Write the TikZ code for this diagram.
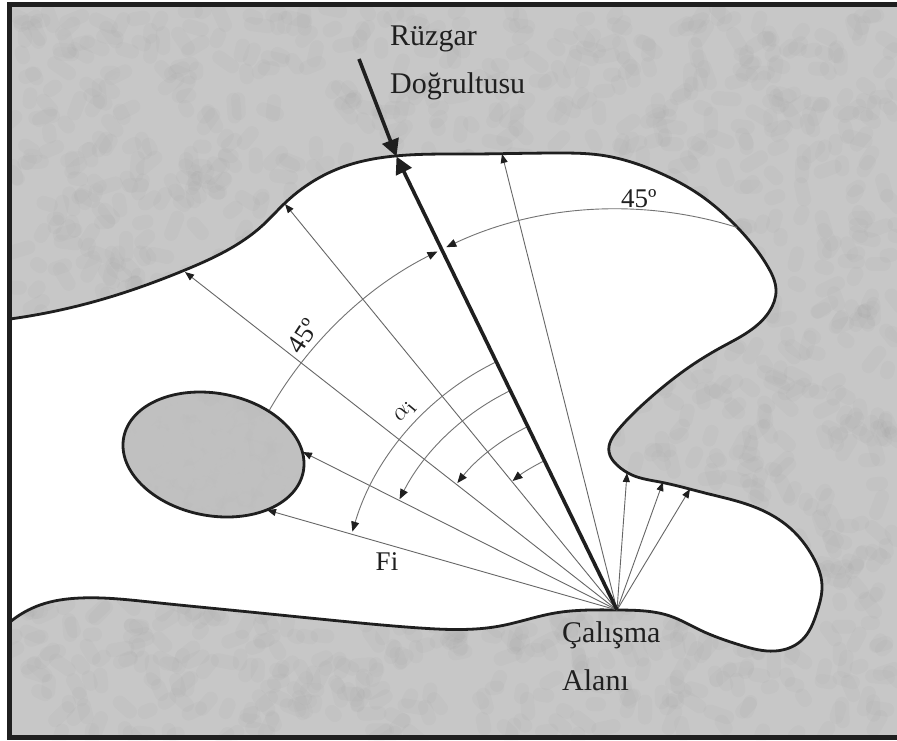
\documentclass[tikz,border=0pt]{standalone}
\usepackage{fontspec}
\setmainfont{Liberation Serif}
\usetikzlibrary{arrows.meta,hobby}

\definecolor{paper}{gray}{0.78}
\definecolor{ink}{gray}{0.12}

\tikzset{
  outline/.style={line width=2.8pt, ink, line join=round},
  thinray/.style={line width=0.9pt, black!60, -{Triangle[length=9pt,width=7pt,color=ink]}},
  arcline/.style={line width=0.9pt, black!55},
  arcarrow/.style={arcline, -{Triangle[length=10pt,width=8pt,color=ink]}},
  bigarrow/.style={line width=3.6pt, ink, -{Triangle[length=17pt,width=17pt]}},
  lbl/.style={ink, inner sep=0pt, anchor=base west, font=\fontsize{30}{36}\selectfont},
  small lbl/.style={ink, inner sep=0pt, font=\fontsize{27}{32}\selectfont},
  grain/.style={line width=14pt, line cap=round, opacity=0.014}
}

\begin{document}
\begin{tikzpicture}[x=1pt, y=-1pt]
\useasboundingbox (0,0) rectangle (897,740);

% Paper background with a faint grain
\fill[paper] (7,2) rectangle (897,740);
\begin{scope}
  \clip (7,2) rectangle (897,740);
  \pgfmathsetseed{41}
  \foreach \i in {1,...,3500}{
    \pgfmathsetmacro{\gx}{10+rnd*885}
    \pgfmathsetmacro{\gy}{8+rnd*726}
    \pgfmathsetmacro{\gl}{4+rnd*14}
    \pgfmathsetmacro{\ga}{rnd*180}
    \pgfmathsetmacro{\gc}{rnd>0.5 ? 100 : 0}
    \draw[grain, white!\gc!black] (\gx,\gy) -- ++(\ga:\gl);
  }
\end{scope}

% Study area outline
\draw[outline, fill=white, use Hobby shortcut] (10,319) .. (100,300) .. (185,270) .. (263,225) .. (285,203)
  .. (340,168) .. (395,156) .. (470,154) .. (560,153) .. (600,155) .. (660,173) .. (700,195)
  .. (737,227) .. (768,267) .. (776,290) .. (769,312) .. (745,334) .. (720,348) .. (685,370)
  .. (650,398) .. (618,430) .. (609,452) .. (617,465) .. (632,475) .. (660,482) .. (705,493)
  .. (757,508) .. (790,528) .. (813,557) .. (822,585) .. (817,612) .. (802,640) .. (775,651)
  .. (740,645) .. (700,630) .. (670,616) .. (645,611) .. (618,610) .. (590,610) .. (555,613)
  .. (500,626) .. (420,628) .. (350,622) .. (250,612) .. (150,602) .. (80,598) .. (40,605) .. (10,622);

% Island
\begin{scope}[shift={(213.5,454.5)}, rotate=-10.75]
  \fill[black!26] (0,0) ellipse [x radius=91.4, y radius=61.2];
  \begin{scope}
    \clip (0,0) ellipse [x radius=91.4, y radius=61.2];
    \foreach \i in {1,...,300}{
      \pgfmathsetmacro{\gx}{-90+rnd*180}
      \pgfmathsetmacro{\gy}{-60+rnd*120}
      \pgfmathsetmacro{\ga}{rnd*180}
      \draw[grain, white] (\gx,\gy) -- ++(\ga:10);
    }
  \end{scope}
  \draw[outline] (0,0) ellipse [x radius=91.4, y radius=61.2];
\end{scope}

% Fetch rays from the study point
\coordinate (apex) at (617,610);
\foreach \rayname/\tipx/\tipy in {
  a/502/154,
  b/285/204,
  c/185/272,
  d/303/452,
  e/267/510,
  f/627/473,
  g/663/482,
  h/690/489
}{
  \coordinate (ray\rayname) at (\tipx,\tipy);
  \draw[thinray] (apex) -- (ray\rayname);
}

% Angle arcs from the wind axis
\foreach \rad/\endang in {166/231, 204/218.5, 244/207, 276/196.5}{
  \draw[arcarrow] (apex) ++(244.1:\rad) arc[start angle=244.1, end angle=\endang, radius=\rad];
}
\draw[arcarrow] (apex) ++(209.9:401) arc[start angle=209.9, end angle=243.4, radius=401];
\draw[arcarrow] (apex) ++(287.4:401) arc[start angle=287.4, end angle=244.8, radius=401];

% Wind direction
\coordinate (shore) at (396.5,156.5);
\coordinate (windstart) at (359,59);
\draw[bigarrow] (apex) -- (shore);
\draw[bigarrow] (windstart) -- (shore);

% Labels
\node[lbl] (ruzgar) at (390,45) {Rüzgar};
\node[lbl] (dogrultu) at (390,93) {Doğrultusu};
\node[lbl] (calisma) at (562,642) {Çalışma};
\node[lbl] (alani) at (562,690) {Alanı};
\node[small lbl, anchor=base west] (aright) at (621,207) {45º};
\node[small lbl, rotate=57] (aleft) at (303,336) {45º};
\node[small lbl, rotate=50, font=\fontsize{29}{32}\selectfont] (alpha) at (405,412) {$\alpha_{\mathrm{i}}$};
\node[small lbl] (fi) at (387,562) {Fi};

% Frame
\fill[ink] (7,2) rectangle (897,7);
\fill[ink] (7,2) rectangle (12,740);
\fill[ink] (7,735) rectangle (897,740);

\end{tikzpicture}
\end{document}
